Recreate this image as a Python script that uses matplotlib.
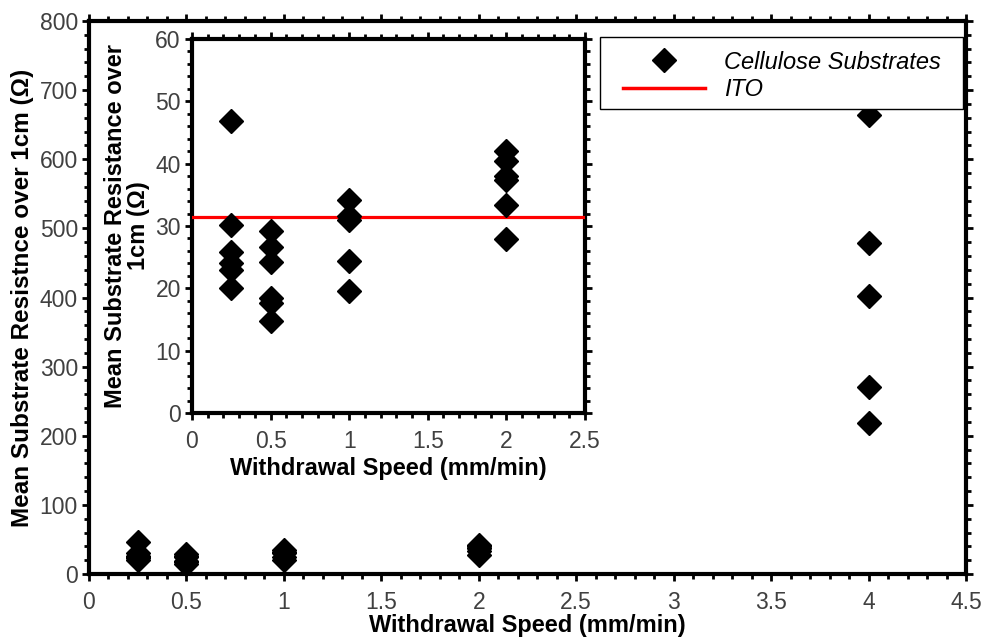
import numpy as np
import matplotlib.pyplot as plt
from matplotlib.ticker import MultipleLocator, FuncFormatter
from matplotlib.lines import Line2D
from matplotlib.patches import Rectangle

plt.rcParams['font.family'] = ['Liberation Sans', 'DejaVu Sans']

# withdrawal speed (mm/min) and mean resistance over 1cm (ohm) for each substrate
speed = np.array([0.25, 0.25, 0.25, 0.25, 0.25, 0.25,
                  0.5, 0.5, 0.5, 0.5, 0.5, 0.5,
                  1, 1, 1, 1, 1,
                  2, 2, 2, 2, 2, 2,
                  4, 4, 4, 4, 4])
resistance = np.array([46.9, 30.2, 25.9, 24.0, 22.9, 20.0,
                       29.2, 26.6, 24.3, 18.4, 17.6, 14.7,
                       34.1, 31.6, 30.9, 24.4, 19.6,
                       42.1, 40.5, 38.0, 37.3, 33.4, 27.9,
                       664, 479, 402, 270, 218])
ito = 31.5

grey = '#404040'
ms = 12.5
W, H = 982, 639


def style_axes(ax):
    for s in ax.spines.values():
        s.set_linewidth(3)
    ax.tick_params(which='both', direction='out', top=True, right=True,
                   labeltop=False, labelright=False, colors='black',
                   labelcolor=grey, labelsize=16.5, width=2)
    ax.tick_params(which='major', length=5)
    ax.tick_params(which='minor', length=3.5)
    ax.tick_params(axis='y', which='both', pad=3)


fig = plt.figure(figsize=(9.82, 6.39), dpi=100)

ax = fig.add_axes([0.0906, 0.1017, 0.8931, 0.8654])
ax.plot(speed, resistance, 'D', color='black', ms=ms, clip_on=False, zorder=5)
ax.set_xlim(0, 4.5)
ax.set_ylim(0, 800)
ax.xaxis.set_major_locator(MultipleLocator(0.5))
ax.xaxis.set_minor_locator(MultipleLocator(0.1))
ax.yaxis.set_major_locator(MultipleLocator(100))
ax.yaxis.set_minor_locator(MultipleLocator(20))
ax.xaxis.set_major_formatter(FuncFormatter(lambda v, p: '%g' % v))
style_axes(ax)
ax.tick_params(axis='x', which='both', pad=7)
ax.set_xlabel('Withdrawal Speed (mm/min)', fontsize=17, fontweight='bold', labelpad=0)
ax.set_ylabel('Mean Substrate Resistnce over 1cm (\u03a9)', fontsize=17.5,
              fontweight='bold', labelpad=4)

inset = fig.add_axes([0.1955, 0.3537, 0.4002, 0.5853])
sel = speed <= 2.5
inset.plot(speed[sel], resistance[sel], 'D', color='black', ms=ms, zorder=5)
inset.axhline(ito, color='red', lw=2.3, zorder=4)
inset.set_xlim(0, 2.5)
inset.set_ylim(0, 60)
inset.xaxis.set_major_locator(MultipleLocator(0.5))
inset.xaxis.set_minor_locator(MultipleLocator(0.1))
inset.yaxis.set_major_locator(MultipleLocator(10))
inset.yaxis.set_minor_locator(MultipleLocator(2))
inset.xaxis.set_major_formatter(FuncFormatter(lambda v, p: '%g' % v))
style_axes(inset)
inset.tick_params(axis='x', which='both', pad=7)
inset.set_xlabel('Withdrawal Speed (mm/min)', fontsize=17, fontweight='bold', labelpad=3)
inset.set_ylabel('Mean Substrate Resistance over\n1cm (\u03a9)', fontsize=17,
                 fontweight='bold', labelpad=4, linespacing=1.0)

# legend box drawn separately so the padding matches the original
frame = Rectangle((600 / W, 1 - 109 / H), 363 / W, 72 / H, transform=fig.transFigure,
                  facecolor='white', edgecolor='black', lw=1, zorder=2.5)
fig.patches.append(frame)

handles = [Line2D([], [], ls='none', marker='D', color='black', ms=ms),
           Line2D([], [], color='red', lw=2.5)]
leg = fig.legend(handles, ['Cellulose Substrates', 'ITO'], loc='upper left',
                 bbox_to_anchor=(609 / W, 1 - 37 / H), frameon=False,
                 prop={'style': 'italic', 'size': 17}, handlelength=3.5,
                 labelspacing=0.18, borderpad=0.58, handletextpad=0.8,
                 borderaxespad=0)
leg.set_zorder(3)

fig.savefig('out.png', dpi=100)
